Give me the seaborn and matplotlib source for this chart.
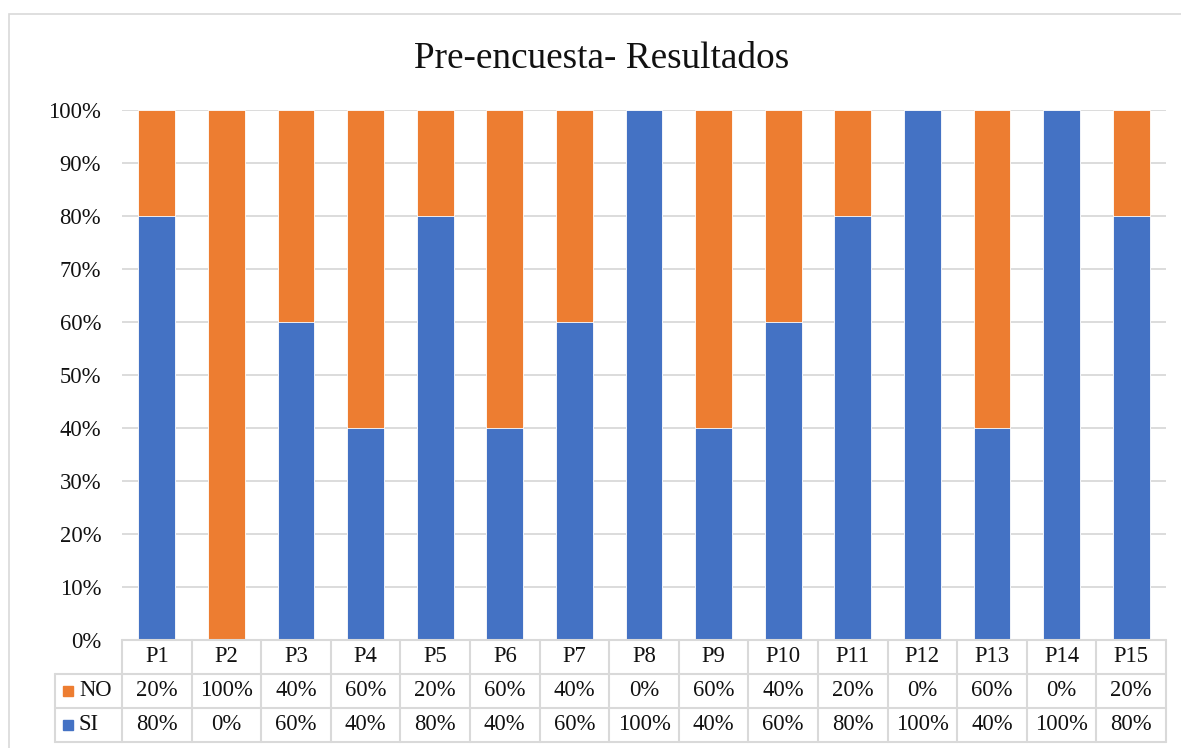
import matplotlib
matplotlib.use("Agg")
import matplotlib.pyplot as plt
from matplotlib.patches import Rectangle
import numpy as np
import pandas as pd
import seaborn as sns

# Survey results per question (percent)
preguntas = ["P1", "P2", "P3", "P4", "P5", "P6", "P7", "P8", "P9", "P10",
             "P11", "P12", "P13", "P14", "P15"]
si_vals = [80, 0, 60, 40, 80, 40, 60, 100, 40, 60, 80, 100, 40, 100, 80]
no_vals = [20, 100, 40, 60, 20, 60, 40, 0, 60, 40, 20, 0, 60, 0, 20]
y_ticks = [0, 10, 20, 30, 40, 50, 60, 70, 80, 90, 100]
titulo = "Pre-encuesta- Resultados"

AZUL = "#4472C4"
NARANJA = "#ED7D31"
GRIS = "#D9D9D9"
TXT = "#111111"
FS = 16.3

sns.set_theme(style="white")
plt.rcParams["font.family"] = ["Liberation Serif", "DejaVu Serif"]
plt.rcParams["text.color"] = TXT
plt.rcParams["ytick.color"] = TXT

W, H = 1181, 748
fig = plt.figure(figsize=(W / 100, H / 100), dpi=100)
fig.patch.set_facecolor("white")

# plot area in pixel terms
left_px, right_px, top_px, bottom_px = 122, 1166, 110, 640
ax = fig.add_axes([left_px / W, 1 - bottom_px / H,
                   (right_px - left_px) / W, (bottom_px - top_px) / H])

df = pd.DataFrame({"pregunta": preguntas, "SI": si_vals, "NO": no_vals})
df["total"] = df["SI"] + df["NO"]

# stacked bars: full height in orange, SI portion drawn over it in blue
sns.barplot(data=df, x="pregunta", y="total", color=NARANJA, width=0.53,
            saturation=1, edgecolor="white", linewidth=0.6, ax=ax)
sns.barplot(data=df, x="pregunta", y="SI", color=AZUL, width=0.53,
            saturation=1, edgecolor="white", linewidth=0.6, ax=ax)

ax.set_xlim(-0.5, len(preguntas) - 0.5)
ax.set_ylim(0, 100)
ax.set_yticks(y_ticks)
ax.set_yticklabels([f"{v}%" for v in y_ticks], fontsize=FS, color=TXT)
ax.yaxis.grid(True, color=GRIS, linewidth=1.3)
ax.set_axisbelow(True)
ax.tick_params(axis="y", length=0, pad=15)
ax.tick_params(axis="x", length=0, labelbottom=False)
ax.set_xlabel("")
ax.set_ylabel("")
for s in ax.spines.values():
    s.set_visible(False)

fig.text(602 / W, 1 - 59 / H, titulo, ha="center", va="center",
         fontsize=26.8, color=TXT)

# data table below the bars
trans = ax.get_xaxis_transform()
row_h = 34 / (bottom_px - top_px)
n = len(preguntas)
step_px = (right_px - left_px) / n
lab_left = -0.5 - (left_px - 55) / step_px
lw = 1.5

def hline(x0, x1, y):
    ax.plot([x0, x1], [y, y], color=GRIS, lw=lw, transform=trans, clip_on=False)

def vline(x, y0, y1):
    ax.plot([x, x], [y0, y1], color=GRIS, lw=lw, transform=trans, clip_on=False)

hline(-0.5, n - 0.5, 0)
for r in range(1, 4):
    hline(lab_left, n - 0.5, -r * row_h)
for i in range(n + 1):
    vline(i - 0.5, 0, -3 * row_h)
vline(lab_left, -row_h, -3 * row_h)

for i, p in enumerate(preguntas):
    ax.text(i, -0.5 * row_h, p, ha="center", va="center", fontsize=FS,
            transform=trans, clip_on=False)
    ax.text(i, -1.5 * row_h, f"{no_vals[i]}%", ha="center", va="center",
            fontsize=FS, transform=trans, clip_on=False)
    ax.text(i, -2.5 * row_h, f"{si_vals[i]}%", ha="center", va="center",
            fontsize=FS, transform=trans, clip_on=False)

for r, (nombre, col) in enumerate([("NO", NARANJA), ("SI", AZUL)]):
    yc = -(1.5 + r) * row_h
    sq = 10 / step_px
    sq_h = 10 / (bottom_px - top_px)
    ax.add_patch(Rectangle((lab_left + 8 / step_px, yc - sq_h / 2), sq, sq_h,
                           color=col, transform=trans, clip_on=False))
    ax.text(lab_left + 24 / step_px, yc, nombre, ha="left", va="center",
            fontsize=FS, transform=trans, clip_on=False)

# chart frame
fig.add_artist(Rectangle((9 / W, -0.2), 1.2, 1.2 - 14 / H,
                         transform=fig.transFigure, fill=False,
                         edgecolor=GRIS, linewidth=1.2))

fig.savefig("out.png", dpi=100)
